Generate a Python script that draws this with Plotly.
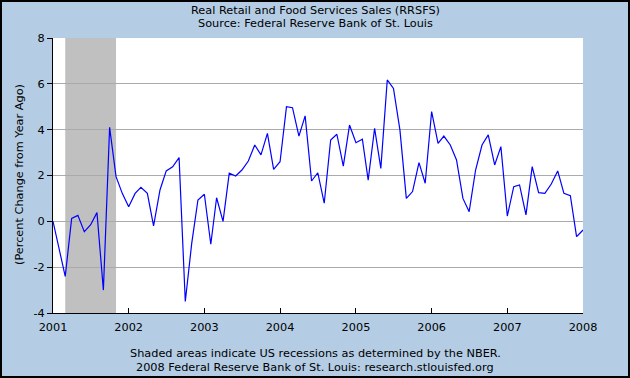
import plotly.graph_objects as go
import pandas as pd

dates = pd.date_range("2001-01-01", "2008-01-01", freq="MS")
values = [
    0.0, -1.2, -2.4, 0.13, 0.26, -0.45, -0.16, 0.38, -3.0, 4.1, 1.95, 1.22,
    0.64, 1.22, 1.48, 1.22, -0.2, 1.37, 2.2, 2.38, 2.78, -3.5, -0.96, 0.93,
    1.18, -1.0, 1.03, 0.0, 2.1, 1.98, 2.24, 2.63, 3.33, 2.9, 3.84, 2.27,
    2.6, 5.0, 4.96, 3.72, 4.6, 1.76, 2.12, 0.79, 3.55, 3.8, 2.41, 4.2,
    3.43, 3.58, 1.8, 4.06, 2.31, 6.17, 5.8, 3.99, 1.0, 1.3, 2.56, 1.66,
    4.79, 3.4, 3.72, 3.33, 2.68, 1.0, 0.42, 2.24, 3.33, 3.77, 2.46, 3.26,
    0.23, 1.51, 1.59, 0.28, 2.39, 1.25, 1.22, 1.63, 2.2, 1.22, 1.12, -0.67,
    -0.38,
]
recession_start = "2001-03-01"
recession_end = "2001-11-01"
x_tickvals = [f"{y}-01-01" for y in range(2001, 2009)]
x_ticktext = [str(y) for y in range(2001, 2009)]
y_tickvals = [-4, -2, 0, 2, 4, 6, 8]
y_ticktext = ["-4", "-2", "0", "2", "4", "6", "8"]

title1 = "Real Retail and Food Services Sales (RRSFS)"
title2 = "Source: Federal Reserve Bank of St. Louis"
foot1 = "Shaded areas indicate US recessions as determined by the NBER."
foot2 = "2008 Federal Reserve Bank of St. Louis: research.stlouisfed.org"
ylabel = "(Percent Change from Year Ago)"

W, H = 630, 378
L, R, T, B = 53, 47, 38, 65
pw, ph = W - L - R, H - T - B
FONT = "DejaVu Sans"
FS = 11.3
BG = "#b4cde4"

fig = go.Figure()
fig.add_trace(go.Scatter(x=dates, y=values, mode="lines",
                         line=dict(color="#0000ff", width=1.2),
                         showlegend=False, hoverinfo="skip"))

fig.add_shape(type="rect", xref="x", yref="paper",
              x0=recession_start, x1=recession_end, y0=0, y1=1,
              fillcolor="#c0c0c0", line=dict(width=0), layer="between")

# outer border
fig.add_shape(type="rect", xref="paper", yref="paper",
              x0=-L / pw + 1 / pw, x1=1 + (R - 1) / pw,
              y0=-B / ph + 1 / ph, y1=1 + (T - 1) / ph,
              line=dict(color="#000000", width=2), fillcolor="rgba(0,0,0,0)",
              layer="above")

def ann(text, x, y, **kw):
    fig.add_annotation(text=text, xref="paper", yref="paper", x=x, y=y,
                       showarrow=False, font=dict(family=FONT, size=FS, color="#000"),
                       **kw)

cx = (W / 2 - L) / pw
ann(title1, cx, 1 + (T - 10) / ph, yanchor="middle")
ann(title2, cx, 1 + (T - 24) / ph, yanchor="middle")
ann(foot1, cx, -(353 - (T + ph)) / ph, yanchor="middle")
ann(foot2, cx, -(367 - (T + ph)) / ph, yanchor="middle")
ann(ylabel, (19 - L) / pw, (T + ph - 175) / ph, textangle=-90,
    xanchor="center", yanchor="middle")

fig.update_layout(
    width=W, height=H,
    margin=dict(l=L, r=R, t=T, b=B),
    paper_bgcolor=BG, plot_bgcolor="#ffffff",
    font=dict(family=FONT, size=FS, color="#000"),
    xaxis=dict(range=["2001-01-01", "2008-01-01"], tickvals=x_tickvals,
               ticktext=x_ticktext, ticks="inside", ticklen=5, tickcolor="#000",
               ticklabelstandoff=3,
               showgrid=False, showline=True, linecolor="#000", linewidth=1,
               zeroline=False, fixedrange=True, tickfont=dict(size=FS)),
    yaxis=dict(range=[-4, 8], tickvals=y_tickvals, ticktext=y_ticktext,
               ticks="outside", ticklen=5, tickcolor="#000",
               showgrid=True, gridcolor="#aaaaaa", gridwidth=1,
               showline=True, linecolor="#000", linewidth=1,
               zeroline=False, fixedrange=True, tickfont=dict(size=FS)),
)

fig.write_html("out.html", config={"displayModeBar": False},
               post_script="document.body.style.margin='0';document.body.style.overflow='hidden';")
